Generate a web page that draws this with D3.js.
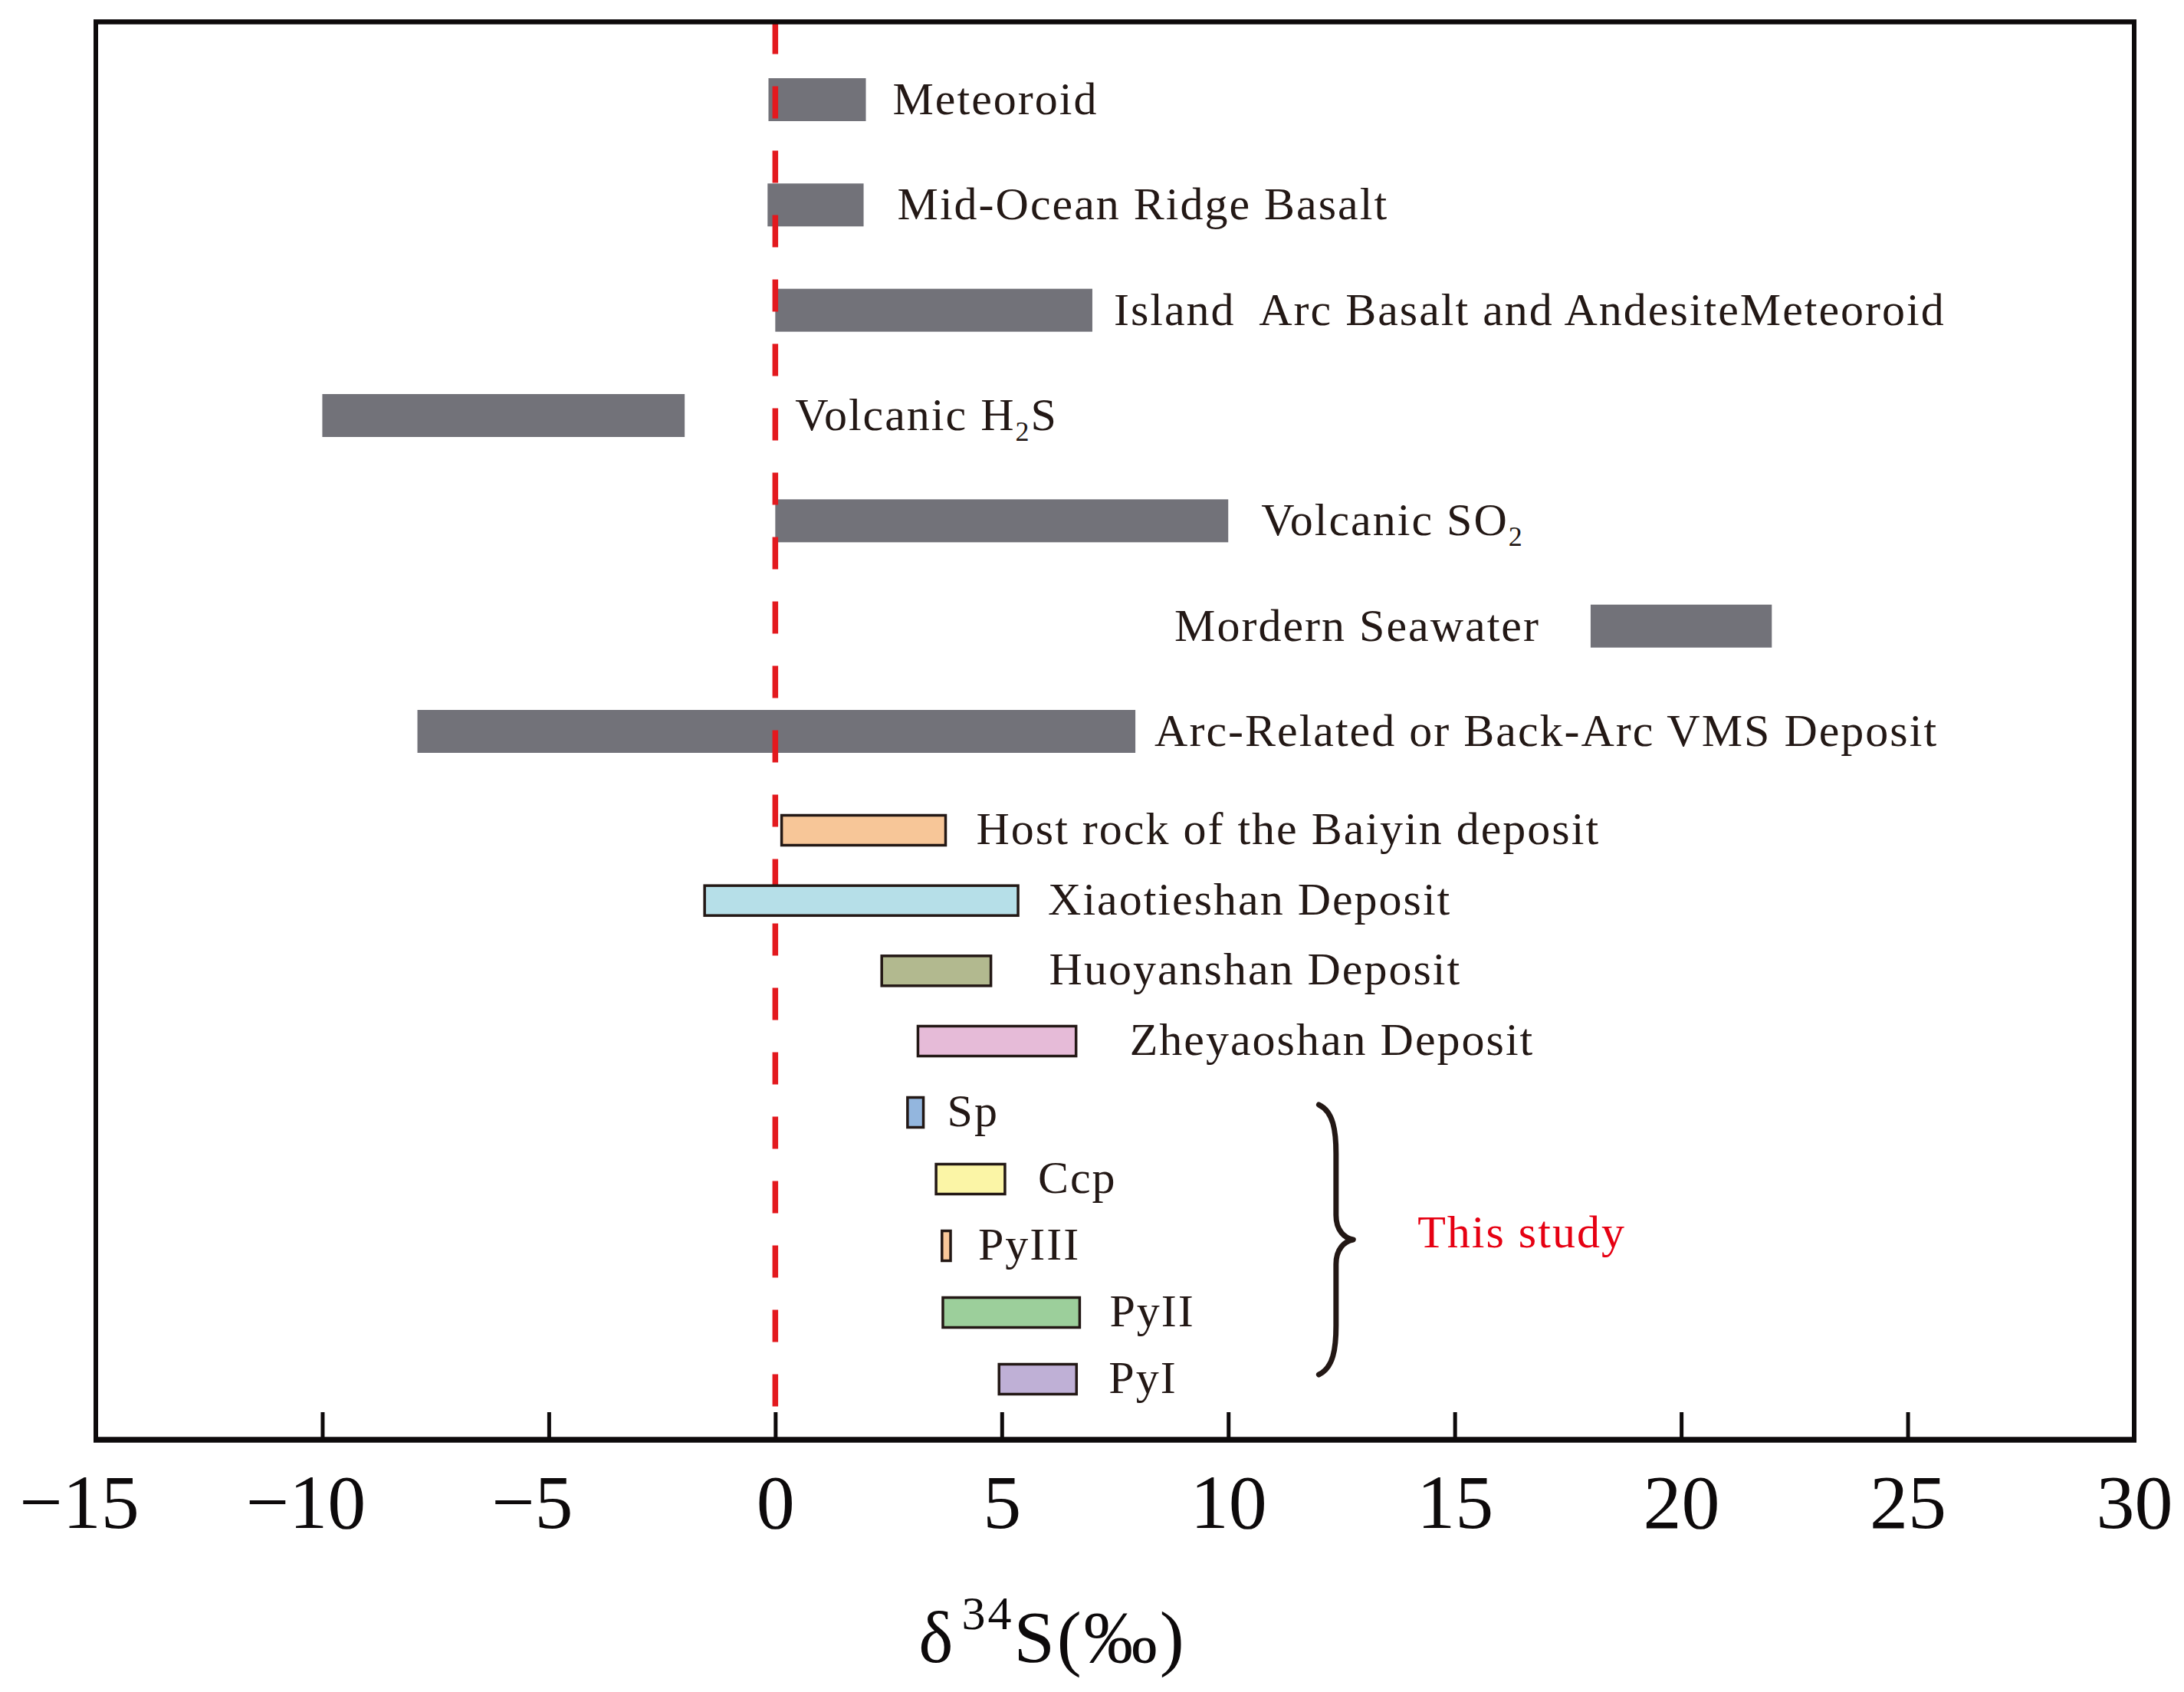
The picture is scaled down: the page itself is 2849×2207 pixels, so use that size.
<!DOCTYPE html>
<html>
<head>
<meta charset="utf-8">
<script src="https://cdn.jsdelivr.net/npm/d3@7"></script>
<style>
  html, body { margin: 0; padding: 0; background: #ffffff; }
  svg { display: block; }
  text { font-family: "Liberation Serif", "Times New Roman", serif; white-space: pre; }
</style>
</head>
<body>
<svg id="chart" width="2849" height="2207"></svg>
<script>
// ---------------- DATA ----------------
// Reference sulfur reservoirs (grey bars)
const refNames = [
  "Meteoroid",
  "Mid-Ocean Ridge Basalt",
  "Island  Arc Basalt and AndesiteMeteoroid",
  "Volcanic H_2S",
  "Volcanic SO_2",
  "Mordern Seawater",
  "Arc-Related or Back-Arc VMS Deposit"
];
const refMin = [-0.15, -0.17, 0.0, -10.0, 0.0, 18.0, -7.9];
const refMax = [ 2.0,   1.95, 7.0,  -2.0, 10.0, 22.0,  7.95];

// Published deposits (coloured bars)
const depNames = [
  "Host rock of the Baiyin deposit",
  "Xiaotieshan Deposit",
  "Huoyanshan Deposit",
  "Zheyaoshan Deposit"
];
const depMin = [0.14, -1.56, 2.35, 3.15];
const depMax = [3.76,  5.36, 4.76, 6.64];

// This study (coloured bars)
const studyNames = ["Sp", "Ccp", "PyIII", "PyII", "PyI"];
const studyMin = [2.92, 3.55, 3.68, 3.70, 4.94];
const studyMax = [3.27, 5.07, 3.87, 6.72, 6.65];

const xTicks = [-15, -10, -5, 0, 5, 10, 15, 20, 25, 30];
const studyLabel = "This study";

// ---------------- STYLE / LAYOUT ----------------
const depColors = ["#f7c698", "#b6dfe8", "#b2b98f", "#e6bbd8"];
const studyColors = ["#93b6de", "#fbf5a6", "#f9c89a", "#9ccf9b", "#bfb0d6"];
const greyFill = "#727279";
const inkColor = "#231815";
const refLabelGap = [35, 44, 28, null, 43, -66, 25];       // null => placed from zero line
const depLabelGap = [40, 39, 76, 70];
const studyLabelGap = [31, 43, 36, 39, 42];

const svg = d3.select("#chart");
const x = d3.scaleLinear().domain([-15, 30]).range([125, 2784]);
const yRef = d3.scalePoint().domain(refNames).range([130, 954]);
const yDep = d3.scalePoint().domain(depNames).range([1083, 1358]);
const yStudy = d3.scalePoint().domain(studyNames).range([1451, 1799]);

const axisY = 1878, frameTop = 28.5;
const refH = 56, depH = 39;
const labelSize = 60;

// helper: text with "_2" subscript syntax
function addLabel(g, str, xPos, yBase, anchor) {
  const t = g.append("text")
    .attr("x", xPos).attr("y", yBase)
    .attr("text-anchor", anchor || "start")
    .attr("font-size", labelSize)
    .attr("letter-spacing", 2)
    .attr("fill", inkColor);
  const parts = str.split("_");
  if (parts.length === 1) { t.text(str); return t; }
  t.append("tspan").text(parts[0]);
  t.append("tspan").attr("font-size", 36).attr("dy", 14).text(parts[1][0]);
  t.append("tspan").attr("dy", -14).text(parts[1].slice(1));
  return t;
}

// ---------------- GREY BARS ----------------
const gRef = svg.append("g");
gRef.selectAll("rect").data(refNames).join("rect")
  .attr("x", (d, i) => x(refMin[i]))
  .attr("width", (d, i) => x(refMax[i]) - x(refMin[i]))
  .attr("y", d => yRef(d) - refH / 2)
  .attr("height", refH)
  .attr("fill", greyFill);

// ---------------- ZERO LINE ----------------
svg.append("line")
  .attr("x1", x(0)).attr("x2", x(0))
  .attr("y1", frameTop).attr("y2", axisY - 4)
  .attr("stroke", "#e3191e")
  .attr("stroke-width", 7.5)
  .attr("stroke-dasharray", "42,42");

// ---------------- COLOURED BARS ----------------
function colouredBars(names, mins, maxs, cols, yScale) {
  svg.append("g").selectAll("rect").data(names).join("rect")
    .attr("x", (d, i) => x(mins[i]))
    .attr("width", (d, i) => x(maxs[i]) - x(mins[i]))
    .attr("y", d => yScale(d) - depH / 2)
    .attr("height", depH)
    .attr("fill", (d, i) => cols[i])
    .attr("stroke", inkColor)
    .attr("stroke-width", 3.5);
}
colouredBars(depNames, depMin, depMax, depColors, yDep);
colouredBars(studyNames, studyMin, studyMax, studyColors, yStudy);

// ---------------- LABELS ----------------
const gLab = svg.append("g");
refNames.forEach((name, i) => {
  const yb = yRef(name) + 19;
  const gap = refLabelGap[i];
  if (gap === null) addLabel(gLab, name, x(0) + 26, yb, "start");
  else if (gap < 0) addLabel(gLab, name, x(refMin[i]) + gap, yb, "end");
  else addLabel(gLab, name, x(refMax[i]) + gap, yb, "start");
});
depNames.forEach((name, i) => {
  addLabel(gLab, name, x(depMax[i]) + depLabelGap[i], yDep(name) + 18, "start");
});
studyNames.forEach((name, i) => {
  addLabel(gLab, name, x(studyMax[i]) + studyLabelGap[i], yStudy(name) + 18, "start");
});

// ---------------- BRACE + "This study" ----------------
const bTop = yStudy(studyNames[0]) - 10;
const bBot = yStudy(studyNames[studyNames.length - 1]) - 6;
const bMid = (bTop + bBot) / 2;
const bx0 = x(12.0), bx1 = x(12.38), bTip = x(12.76);
const bp = d3.path();
bp.moveTo(bx0, bTop);
bp.bezierCurveTo(bx0 + 19, bTop + 9, bx1, bTop + 34, bx1, bTop + 64);
bp.lineTo(bx1, bMid - 32);
bp.bezierCurveTo(bx1, bMid - 12, bx1 + 11, bMid - 2, bTip, bMid);
bp.bezierCurveTo(bx1 + 11, bMid + 2, bx1, bMid + 12, bx1, bMid + 32);
bp.lineTo(bx1, bBot - 64);
bp.bezierCurveTo(bx1, bBot - 34, bx0 + 19, bBot - 9, bx0, bBot);
svg.append("path")
  .attr("d", bp.toString())
  .attr("fill", "none")
  .attr("stroke", inkColor)
  .attr("stroke-width", 7)
  .attr("stroke-linejoin", "round")
  .attr("stroke-linecap", "round");

svg.append("text")
  .attr("x", x(14.18)).attr("y", bMid + 10)
  .attr("font-size", 60)
  .attr("letter-spacing", 2)
  .attr("fill", "#e60012")
  .text(studyLabel);

// ---------------- FRAME ----------------
const frame = svg.append("g").attr("stroke", "#0d0a0b").attr("fill", "none");
frame.append("line").attr("x1", x(-15) - 3).attr("x2", x(30) + 3)
  .attr("y1", frameTop).attr("y2", frameTop).attr("stroke-width", 6.5);
frame.append("line").attr("x1", x(-15)).attr("x2", x(-15))
  .attr("y1", frameTop).attr("y2", axisY).attr("stroke-width", 6);
frame.append("line").attr("x1", x(30)).attr("x2", x(30))
  .attr("y1", frameTop).attr("y2", axisY).attr("stroke-width", 6);

// ---------------- X AXIS ----------------
const fmt = v => (v < 0 ? "\u2212" + Math.abs(v) : String(v));
const axis = d3.axisBottom(x)
  .tickValues(xTicks)
  .tickFormat(fmt)
  .tickSizeInner(-36)
  .tickSizeOuter(0)
  .tickPadding(44);
const gAxis = svg.append("g")
  .attr("transform", `translate(0,${axisY})`)
  .call(axis);
gAxis.select(".domain").attr("stroke", "#0d0a0b").attr("stroke-width", 7.5)
  .attr("d", `M${x(-15) - 3},0H${x(30) + 3}`);
gAxis.selectAll(".tick line").attr("stroke", "#0d0a0b").attr("stroke-width", 5);
gAxis.selectAll(".tick text")
  .attr("font-family", "'Liberation Serif', 'Times New Roman', serif")
  .attr("font-size", 100)
  .attr("fill", "#0d0a0b")
  .attr("dx", d => (d < 0 ? -22 : 0));

// ---------------- AXIS TITLE ----------------
const title = svg.append("text")
  .attr("x", 1373).attr("y", 2168)
  .attr("text-anchor", "middle")
  .attr("font-size", 96)
  .attr("letter-spacing", 3)
  .attr("fill", "#0d0a0b");
title.append("tspan").text("\u03b4");
title.append("tspan").attr("font-size", 62).attr("dx", 8).attr("dy", -43).text("34");
title.append("tspan").attr("dy", 43).text("S(\u2030)");
</script>
</body>
</html>
